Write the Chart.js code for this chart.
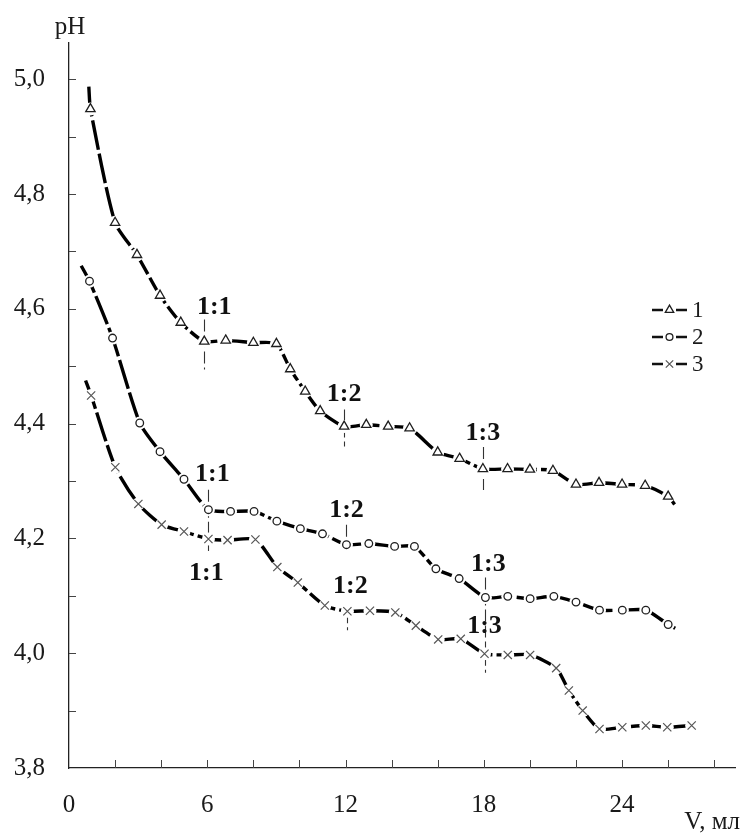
<!DOCTYPE html>
<html>
<head>
<meta charset="utf-8">
<script src="https://cdn.jsdelivr.net/npm/chart.js@4.4.1/dist/chart.umd.min.js"></script>
<style>
  html, body { margin: 0; padding: 0; background: #fff; }
  #wrap { width: 742px; height: 840px; }
</style>
</head>
<body>
<div id="wrap"><canvas id="c" width="742" height="840"></canvas></div>
<script>
// ---- titration data: volume of titrant (ml) and measured pH ----
const seriesNames = ['1', '2', '3'];

const volume1 = [0.93, 2.0, 2.95, 3.95, 4.85, 5.87, 6.8, 8.0, 9.0, 9.6, 10.25, 10.9, 11.94, 12.9, 13.85, 14.78, 16.0, 16.95, 17.96, 19.03, 20.0, 21.0, 22.0, 23.0, 24.0, 25.0, 26.0];
const pH1     = [4.948, 4.750, 4.694, 4.623, 4.576, 4.543, 4.545, 4.541, 4.539, 4.495, 4.456, 4.422, 4.395, 4.398, 4.395, 4.392, 4.350, 4.339, 4.321, 4.321, 4.320, 4.318, 4.294, 4.297, 4.294, 4.292, 4.273];
const curveStart1 = [0.86, 4.987];
const curveEnd1   = [26.28, 4.259];

const volume2 = [0.89, 1.89, 3.07, 3.95, 4.99, 6.05, 7.01, 8.03, 9.02, 10.04, 11.0, 12.04, 13.01, 14.13, 14.99, 15.92, 16.93, 18.07, 19.04, 20.01, 21.04, 22.0, 23.02, 24.01, 25.03, 26.0];
const pH2     = [4.648, 4.549, 4.401, 4.351, 4.303, 4.250, 4.247, 4.247, 4.230, 4.217, 4.208, 4.189, 4.191, 4.186, 4.186, 4.147, 4.130, 4.097, 4.099, 4.095, 4.099, 4.089, 4.075, 4.075, 4.075, 4.050];
const curveStart2 = [0.53, 4.675];
const curveEnd2   = [26.32, 4.043];

const volume3 = [0.96, 2.01, 3.01, 4.02, 4.99, 6.05, 6.88, 8.09, 9.04, 9.93, 11.1, 12.08, 13.06, 14.16, 15.05, 16.02, 17.0, 18.03, 19.04, 20.01, 21.14, 21.69, 22.29, 23.02, 24.01, 25.03, 25.96, 27.02];
const pH3     = [4.449, 4.324, 4.260, 4.224, 4.212, 4.199, 4.197, 4.198, 4.150, 4.123, 4.083, 4.073, 4.074, 4.071, 4.048, 4.024, 4.025, 3.999, 3.997, 3.997, 3.974, 3.935, 3.900, 3.868, 3.871, 3.874, 3.871, 3.874];
const curveStart3 = [0.72, 4.475];
const curveEnd3   = null;

// axis tick labels
const xLabelValues = [0, 6, 12, 18, 24];
const yLabelValues = [3.8, 4.0, 4.2, 4.4, 4.6, 4.8, 5.0];
const yAxisTitle = 'pH';
const xAxisTitle = 'V, мл';

// stoichiometric ratio marks: which series / which point they sit on
const ratioMarks = [
  { text: '1:1', series: 0, point: 5 },
  { text: '1:2', series: 0, point: 12 },
  { text: '1:3', series: 0, point: 18 },
  { text: '1:1', series: 1, point: 5 },
  { text: '1:2', series: 1, point: 11 },
  { text: '1:3', series: 1, point: 17 },
  { text: '1:1', series: 2, point: 5 },
  { text: '1:2', series: 2, point: 11 },
  { text: '1:3', series: 2, point: 17 }
];

// ---- drawing setup ----
const SERIF = '"Liberation Serif", "Times New Roman", serif';
const volumes = [volume1, volume2, volume3];
const pHs = [pH1, pH2, pH3];
const starts = [curveStart1, curveStart2, curveStart3];
const ends = [curveEnd1, curveEnd2, curveEnd3];

const markerStyle = [
  { pointStyle: 'triangle', radius: 5.4, borderColor: '#1e1e1e', borderWidth: 1.3 },
  { pointStyle: 'circle',   radius: 3.8, borderColor: '#1e1e1e', borderWidth: 1.3 },
  { pointStyle: 'crossRot', radius: 5.8, borderColor: '#555555', borderWidth: 1.2 }
];

// pixel placement of each ratio label (text centre offset, guide line extent)
const ratioPlacement = [
  { dx: 10, dy: -35, top: -22, bottom: 28 },
  { dx: 0,  dy: -33, top: -17, bottom: 20 },
  { dx: 0,  dy: -37, top: -22, bottom: 21 },
  { dx: 4,  dy: -36, top: -20, bottom: 29 },
  { dx: 0,  dy: -35, top: -20, bottom: 0 },
  { dx: 3,  dy: -34, top: -20, bottom: 56 },
  { dx: -2, dy: 33,  top: 0,   bottom: 16 },
  { dx: 3,  dy: -26, top: 0,   bottom: 19 },
  { dx: 0,  dy: -28, top: 0,   bottom: 19 }
];

const datasets = [];
for (let s = 0; s < 3; s++) {
  const pts = volumes[s].map((v, i) => ({ x: v, y: pHs[s][i] }));
  const linePts = [];
  if (starts[s]) linePts.push({ x: starts[s][0], y: starts[s][1] });
  linePts.push(...pts);
  if (ends[s]) linePts.push({ x: ends[s][0], y: ends[s][1] });
  datasets.push({
    label: 'curve ' + seriesNames[s],
    data: linePts,
    showLine: true,
    borderColor: '#000',
    borderWidth: 3.4,
    borderDash: [30, 4],
    tension: 0.22,
    pointRadius: 0,
    order: 2
  });
  const m = markerStyle[s];
  datasets.push({
    label: seriesNames[s],
    data: pts,
    showLine: false,
    isMarker: true,
    pointStyle: m.pointStyle,
    pointRadius: m.radius,
    pointBorderColor: m.borderColor,
    pointBorderWidth: m.borderWidth,
    pointBackgroundColor: '#fff',
    order: 0
  });
}

function fmtComma(v) { return v.toFixed(1).replace('.', ','); }

// white background + axis titles + inward ticks + ratio guides + legend
const decorations = {
  id: 'decorations',
  beforeDraw(chart) {
    const ctx = chart.ctx;
    ctx.save();
    ctx.fillStyle = '#fff';
    ctx.fillRect(0, 0, chart.width, chart.height);
    ctx.restore();
  },
  beforeDatasetsDraw(chart) {
    const ctx = chart.ctx;
    const xs = chart.scales.x, ys = chart.scales.y;
    const area = chart.chartArea;
    ctx.save();
    // inward tick marks
    ctx.strokeStyle = '#444';
    ctx.lineWidth = 1;
    ctx.beginPath();
    ys.ticks.forEach(t => {
      const y = Math.round(ys.getPixelForValue(t.value)) + 0.5;
      if (Math.abs(t.value - ys.min) < 1e-6) return;
      ctx.moveTo(area.left, y); ctx.lineTo(area.left + 7, y);
    });
    xs.ticks.forEach(t => {
      if (Math.abs(t.value - xs.min) < 1e-6) return;
      const x = Math.round(xs.getPixelForValue(t.value)) + 0.5;
      ctx.moveTo(x, area.bottom); ctx.lineTo(x, area.bottom - 8);
    });
    ctx.stroke();

    // guide lines at the ratio points
    ctx.strokeStyle = '#333';
    ctx.lineWidth = 1.1;
    ctx.setLineDash([12, 4]);
    ratioMarks.forEach((r, i) => {
      const p = ratioPlacement[i];
      if (p.top === p.bottom) return;
      const x = Math.round(xs.getPixelForValue(volumes[r.series][r.point])) + 0.5;
      const y = ys.getPixelForValue(pHs[r.series][r.point]);
      ctx.beginPath();
      ctx.moveTo(x, y + p.top);
      ctx.lineTo(x, y + p.bottom);
      ctx.stroke();
    });
    ctx.restore();
  },
  beforeDatasetDraw(chart, args) {
    const ds = chart.data.datasets[args.index];
    if (!ds.isMarker) return;
    const ctx = chart.ctx;
    ctx.save();
    ctx.fillStyle = '#fff';
    args.meta.data.forEach(el => {
      ctx.beginPath();
      ctx.arc(el.x, el.y, 6.5, 0, Math.PI * 2);
      ctx.fill();
    });
    ctx.restore();
  },
  afterDatasetsDraw(chart) {
    const ctx = chart.ctx;
    const xs = chart.scales.x, ys = chart.scales.y;
    const area = chart.chartArea;
    ctx.save();
    // ratio labels
    ctx.fillStyle = '#111';
    ctx.font = 'bold 26px ' + SERIF;
    ctx.textAlign = 'center';
    ctx.textBaseline = 'middle';
    ratioMarks.forEach((r, i) => {
      const p = ratioPlacement[i];
      const x = xs.getPixelForValue(volumes[r.series][r.point]);
      const y = ys.getPixelForValue(pHs[r.series][r.point]);
      ctx.fillText(r.text, x + p.dx, y + p.dy + 1);
    });

    // axis titles
    ctx.font = '25px ' + SERIF;
    ctx.fillStyle = '#1a1a1a';
    ctx.textAlign = 'center';
    ctx.fillText(yAxisTitle, area.left + 1, 27);
    ctx.textAlign = 'right';
    ctx.fillText(xAxisTitle, 740, 822);

    // legend
    const rowsY = [310, 337, 364];
    ctx.font = '23px ' + SERIF;
    ctx.textAlign = 'left';
    for (let s = 0; s < 3; s++) {
      const y = rowsY[s];
      const cx = 669.5;
      ctx.strokeStyle = '#111';
      ctx.lineWidth = 2.4;
      ctx.setLineDash([]);
      ctx.beginPath();
      ctx.moveTo(652, y); ctx.lineTo(cx - 6.5, y);
      ctx.moveTo(cx + 6.5, y); ctx.lineTo(687, y);
      ctx.stroke();
      const m = markerStyle[s];
      ctx.fillStyle = '#fff';
      ctx.strokeStyle = m.borderColor;
      ctx.lineWidth = m.borderWidth;
      Chart.helpers.drawPoint(ctx, {
        pointStyle: m.pointStyle, radius: m.radius * 0.9, rotation: 0, borderWidth: m.borderWidth
      }, cx, y);
      ctx.fillStyle = '#1a1a1a';
      ctx.fillText(seriesNames[s], 692, y + 1);
    }
    ctx.restore();
  }
};

new Chart(document.getElementById('c'), {
  type: 'scatter',
  data: { datasets },
  plugins: [decorations],
  options: {
    responsive: false,
    animation: false,
    events: [],
    devicePixelRatio: 1,
    layout: { padding: { top: 43, right: 1, left: 0, bottom: 0 } },
    plugins: { legend: { display: false }, tooltip: { enabled: false } },
    scales: {
      x: {
        type: 'linear',
        min: 0,
        max: 28.9,
        afterFit(scale) { scale.height = 72; },
        grid: { display: false, drawTicks: false },
        border: { display: true, color: '#222', width: 1.3 },
        ticks: {
          stepSize: 2,
          includeBounds: false,
          autoSkip: false,
          maxRotation: 0,
          padding: 22,
          color: '#1a1a1a',
          font: { family: SERIF, size: 25 },
          callback(v) {
            return xLabelValues.some(l => Math.abs(l - v) < 1e-6) ? String(Math.round(v)) : '';
          }
        }
      },
      y: {
        type: 'linear',
        min: 3.8,
        max: 5.063,
        afterFit(scale) { scale.width = 69; },
        grid: { display: false, drawTicks: false },
        border: { display: true, color: '#222', width: 1.3 },
        ticks: {
          stepSize: 0.1,
          includeBounds: false,
          autoSkip: false,
          padding: 24,
          color: '#1a1a1a',
          font: { family: SERIF, size: 25 },
          callback(v) {
            const hit = yLabelValues.find(l => Math.abs(l - v) < 1e-6);
            return hit !== undefined ? fmtComma(hit) : '';
          }
        }
      }
    }
  }
});
</script>
</body>
</html>
